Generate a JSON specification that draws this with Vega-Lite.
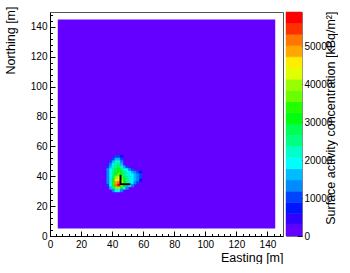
{
  "$schema": "https://vega.github.io/schema/vega-lite/v6.json",
  "padding": {"left": 3, "top": 5, "right": 0, "bottom": 0},
  "autosize": {"type": "pad"},
  "background": "white",
  "config": {
    "font": "Liberation Sans",
    "view": {"stroke": null},
    "axis": {"labelFont": "Liberation Sans", "titleFont": "Liberation Sans", "labelFontSize": 10, "titleFontSize": 12.5, "titleFontWeight": "normal", "labelColor": "#000", "titleColor": "#000", "domainColor": "#000", "tickColor": "#000", "grid": false, "zindex": 1, "labelFlush": false, "labelOverlap": false}
  },
  "spacing": 1,
  "resolve": {"scale": {"color": "independent", "stroke": "independent"}},
  "hconcat": [
    {
      "width": 233,
      "height": 224,
      "view": {"stroke": "#555", "strokeWidth": 1},
      "resolve": {"axis": {"x": "independent", "y": "independent"}, "scale": {"color": "independent", "stroke": "independent"}},
      "layer": [
        {
          "data": {"values": [{"x": 5, "x2": 145, "y": 5, "y2": 145, "z": 0}]},
          "mark": {"type": "rect"},
          "encoding": {
            "x": {"field": "x", "type": "quantitative", "scale": {"domain": [0, 150], "nice": false}, "axis": {"orient": "bottom", "values": [0, 20, 40, 60, 80, 100, 120, 140], "format": "d", "tickSize": -5, "labelPadding": 8, "title": "Easting [m]", "titleAnchor": "end", "titleAlign": "right", "titleBaseline": "middle", "titleX": 233, "titleY": 21}},
            "x2": {"field": "x2"},
            "y": {"field": "y", "type": "quantitative", "scale": {"domain": [0, 150], "nice": false}, "axis": {"orient": "left", "values": [0, 20, 40, 60, 80, 100, 120, 140], "format": "d", "tickSize": -5, "labelPadding": 8, "title": "Northing [m]", "titleAngle": 270, "titleAnchor": "end", "titleAlign": "right", "titleBaseline": "middle", "titleX": -40, "titleY": -6}},
            "y2": {"field": "y2"},
            "color": {"field": "z", "type": "quantitative", "scale": {"type": "threshold", "domain": [2950, 5900, 8850, 11800, 14750, 17700, 20650, 23600, 26550, 29500, 32450, 35400, 38350, 41300, 44250, 47200, 50150, 53100, 56050], "range": ["#6300ff", "#3300ff", "#0014ff", "#0044ff", "#008bff", "#00bbff", "#00fffc", "#00ffcc", "#00ff85", "#00ff55", "#00ff0e", "#22ff00", "#69ff00", "#99ff00", "#e0ff00", "#ffee00", "#ffa700", "#ff7700", "#ff3000", "#ff0000"]}, "legend": null}
          }
        },
        {
          "data": {"values": [
            {"x": 41.75, "x2": 43.5, "y": 52.25, "y2": 54, "z": 10300},
            {"x": 43.5, "x2": 45.25, "y": 52.25, "y2": 54, "z": 10300},
            {"x": 45.25, "x2": 47, "y": 52.25, "y2": 54, "z": 7400},

            {"x": 40, "x2": 41.75, "y": 50.5, "y2": 52.25, "z": 10300},
            {"x": 41.75, "x2": 43.5, "y": 50.5, "y2": 52.25, "z": 16200},
            {"x": 43.5, "x2": 45.25, "y": 50.5, "y2": 52.25, "z": 16200},
            {"x": 45.25, "x2": 47, "y": 50.5, "y2": 52.25, "z": 10300},

            {"x": 38.25, "x2": 40, "y": 48.75, "y2": 50.5, "z": 10300},
            {"x": 40, "x2": 41.75, "y": 48.75, "y2": 50.5, "z": 16200},
            {"x": 41.75, "x2": 43.5, "y": 48.75, "y2": 50.5, "z": 22100},
            {"x": 43.5, "x2": 45.25, "y": 48.75, "y2": 50.5, "z": 22100},
            {"x": 45.25, "x2": 47, "y": 48.75, "y2": 50.5, "z": 13300},

            {"x": 38.25, "x2": 40, "y": 47, "y2": 48.75, "z": 13300},
            {"x": 40, "x2": 41.75, "y": 47, "y2": 48.75, "z": 19100},
            {"x": 41.75, "x2": 43.5, "y": 47, "y2": 48.75, "z": 25000},
            {"x": 43.5, "x2": 45.25, "y": 47, "y2": 48.75, "z": 25000},
            {"x": 45.25, "x2": 47, "y": 47, "y2": 48.75, "z": 16200},

            {"x": 36.5, "x2": 38.25, "y": 45.25, "y2": 47, "z": 10300},
            {"x": 38.25, "x2": 40, "y": 45.25, "y2": 47, "z": 16200},
            {"x": 40, "x2": 41.75, "y": 45.25, "y2": 47, "z": 22100},
            {"x": 41.75, "x2": 43.5, "y": 45.25, "y2": 47, "z": 26000},
            {"x": 43.5, "x2": 45.25, "y": 45.25, "y2": 47, "z": 28000},
            {"x": 45.25, "x2": 47, "y": 45.25, "y2": 47, "z": 22100},
            {"x": 47, "x2": 48.75, "y": 45.25, "y2": 47, "z": 16200},
            {"x": 48.75, "x2": 50.5, "y": 45.25, "y2": 47, "z": 10300},

            {"x": 36.5, "x2": 38.25, "y": 43.5, "y2": 45.25, "z": 13300},
            {"x": 38.25, "x2": 40, "y": 43.5, "y2": 45.25, "z": 19100},
            {"x": 40, "x2": 41.75, "y": 43.5, "y2": 45.25, "z": 25000},
            {"x": 41.75, "x2": 43.5, "y": 43.5, "y2": 45.25, "z": 28000},
            {"x": 43.5, "x2": 45.25, "y": 43.5, "y2": 45.25, "z": 31000},
            {"x": 45.25, "x2": 47, "y": 43.5, "y2": 45.25, "z": 26000},
            {"x": 47, "x2": 48.75, "y": 43.5, "y2": 45.25, "z": 22100},
            {"x": 48.75, "x2": 50.5, "y": 43.5, "y2": 45.25, "z": 19100},
            {"x": 50.5, "x2": 52.25, "y": 43.5, "y2": 45.25, "z": 13300},
            {"x": 52.25, "x2": 54, "y": 43.5, "y2": 45.25, "z": 10300},

            {"x": 36.5, "x2": 38.25, "y": 41.75, "y2": 43.5, "z": 13300},
            {"x": 38.25, "x2": 40, "y": 41.75, "y2": 43.5, "z": 19100},
            {"x": 40, "x2": 41.75, "y": 41.75, "y2": 43.5, "z": 26000},
            {"x": 41.75, "x2": 43.5, "y": 41.75, "y2": 43.5, "z": 31000},
            {"x": 43.5, "x2": 45.25, "y": 41.75, "y2": 43.5, "z": 33900},
            {"x": 45.25, "x2": 47, "y": 41.75, "y2": 43.5, "z": 31000},
            {"x": 47, "x2": 48.75, "y": 41.75, "y2": 43.5, "z": 25000},
            {"x": 48.75, "x2": 50.5, "y": 41.75, "y2": 43.5, "z": 22100},
            {"x": 50.5, "x2": 52.25, "y": 41.75, "y2": 43.5, "z": 19100},
            {"x": 52.25, "x2": 54, "y": 41.75, "y2": 43.5, "z": 16200},
            {"x": 54, "x2": 55.75, "y": 41.75, "y2": 43.5, "z": 13300},
            {"x": 55.75, "x2": 57.5, "y": 41.75, "y2": 43.5, "z": 10300},
            {"x": 57.5, "x2": 59.25, "y": 41.75, "y2": 43.5, "z": 7400},

            {"x": 36.5, "x2": 38.25, "y": 40, "y2": 41.75, "z": 13300},
            {"x": 38.25, "x2": 40, "y": 40, "y2": 41.75, "z": 19100},
            {"x": 40, "x2": 41.75, "y": 40, "y2": 41.75, "z": 26000},
            {"x": 41.75, "x2": 43.5, "y": 40, "y2": 41.75, "z": 33900},
            {"x": 43.5, "x2": 45.25, "y": 40, "y2": 41.75, "z": 36800},
            {"x": 45.25, "x2": 47, "y": 40, "y2": 41.75, "z": 33900},
            {"x": 47, "x2": 48.75, "y": 40, "y2": 41.75, "z": 26000},
            {"x": 48.75, "x2": 50.5, "y": 40, "y2": 41.75, "z": 22100},
            {"x": 50.5, "x2": 52.25, "y": 40, "y2": 41.75, "z": 19100},
            {"x": 52.25, "x2": 54, "y": 40, "y2": 41.75, "z": 19100},
            {"x": 54, "x2": 55.75, "y": 40, "y2": 41.75, "z": 16200},
            {"x": 55.75, "x2": 57.5, "y": 40, "y2": 41.75, "z": 13300},
            {"x": 57.5, "x2": 59.25, "y": 40, "y2": 41.75, "z": 10300},

            {"x": 36.5, "x2": 38.25, "y": 38.25, "y2": 40, "z": 13300},
            {"x": 38.25, "x2": 40, "y": 38.25, "y2": 40, "z": 19100},
            {"x": 40, "x2": 41.75, "y": 38.25, "y2": 40, "z": 28000},
            {"x": 41.75, "x2": 43.5, "y": 38.25, "y2": 40, "z": 39800},
            {"x": 43.5, "x2": 45.25, "y": 38.25, "y2": 40, "z": 42700},
            {"x": 45.25, "x2": 47, "y": 38.25, "y2": 40, "z": 36800},
            {"x": 47, "x2": 48.75, "y": 38.25, "y2": 40, "z": 28000},
            {"x": 48.75, "x2": 50.5, "y": 38.25, "y2": 40, "z": 25000},
            {"x": 50.5, "x2": 52.25, "y": 38.25, "y2": 40, "z": 22100},
            {"x": 52.25, "x2": 54, "y": 38.25, "y2": 40, "z": 19100},
            {"x": 54, "x2": 55.75, "y": 38.25, "y2": 40, "z": 16200},
            {"x": 55.75, "x2": 57.5, "y": 38.25, "y2": 40, "z": 13300},
            {"x": 57.5, "x2": 59.25, "y": 38.25, "y2": 40, "z": 10300},

            {"x": 36.5, "x2": 38.25, "y": 36.5, "y2": 38.25, "z": 13300},
            {"x": 38.25, "x2": 40, "y": 36.5, "y2": 38.25, "z": 22100},
            {"x": 40, "x2": 41.75, "y": 36.5, "y2": 38.25, "z": 31000},
            {"x": 41.75, "x2": 43.5, "y": 36.5, "y2": 38.25, "z": 45700},
            {"x": 43.5, "x2": 45.25, "y": 36.5, "y2": 38.25, "z": 45700},
            {"x": 45.25, "x2": 47, "y": 36.5, "y2": 38.25, "z": 39800},
            {"x": 47, "x2": 48.75, "y": 36.5, "y2": 38.25, "z": 31000},
            {"x": 48.75, "x2": 50.5, "y": 36.5, "y2": 38.25, "z": 26000},
            {"x": 50.5, "x2": 52.25, "y": 36.5, "y2": 38.25, "z": 22100},
            {"x": 52.25, "x2": 54, "y": 36.5, "y2": 38.25, "z": 19100},
            {"x": 54, "x2": 55.75, "y": 36.5, "y2": 38.25, "z": 16200},
            {"x": 55.75, "x2": 57.5, "y": 36.5, "y2": 38.25, "z": 13300},
            {"x": 57.5, "x2": 59.25, "y": 36.5, "y2": 38.25, "z": 7400},

            {"x": 36.5, "x2": 38.25, "y": 34.75, "y2": 36.5, "z": 13300},
            {"x": 38.25, "x2": 40, "y": 34.75, "y2": 36.5, "z": 22100},
            {"x": 40, "x2": 41.75, "y": 34.75, "y2": 36.5, "z": 33900},
            {"x": 41.75, "x2": 43.5, "y": 34.75, "y2": 36.5, "z": 48600},
            {"x": 43.5, "x2": 45.25, "y": 34.75, "y2": 36.5, "z": 51600},
            {"x": 45.25, "x2": 47, "y": 34.75, "y2": 36.5, "z": 42700},
            {"x": 47, "x2": 48.75, "y": 34.75, "y2": 36.5, "z": 31000},
            {"x": 48.75, "x2": 50.5, "y": 34.75, "y2": 36.5, "z": 26000},
            {"x": 50.5, "x2": 52.25, "y": 34.75, "y2": 36.5, "z": 22100},
            {"x": 52.25, "x2": 54, "y": 34.75, "y2": 36.5, "z": 19100},
            {"x": 54, "x2": 55.75, "y": 34.75, "y2": 36.5, "z": 13300},
            {"x": 55.75, "x2": 57.5, "y": 34.75, "y2": 36.5, "z": 10300},

            {"x": 36.5, "x2": 38.25, "y": 33, "y2": 34.75, "z": 10300},
            {"x": 38.25, "x2": 40, "y": 33, "y2": 34.75, "z": 19100},
            {"x": 40, "x2": 41.75, "y": 33, "y2": 34.75, "z": 33900},
            {"x": 41.75, "x2": 43.5, "y": 33, "y2": 34.75, "z": 51600},
            {"x": 43.5, "x2": 45.25, "y": 33, "y2": 34.75, "z": 58900},
            {"x": 45.25, "x2": 47, "y": 33, "y2": 34.75, "z": 45700},
            {"x": 47, "x2": 48.75, "y": 33, "y2": 34.75, "z": 31000},
            {"x": 48.75, "x2": 50.5, "y": 33, "y2": 34.75, "z": 25000},
            {"x": 50.5, "x2": 52.25, "y": 33, "y2": 34.75, "z": 19100},
            {"x": 52.25, "x2": 54, "y": 33, "y2": 34.75, "z": 13300},

            {"x": 38.25, "x2": 40, "y": 31.25, "y2": 33, "z": 16200},
            {"x": 40, "x2": 41.75, "y": 31.25, "y2": 33, "z": 28000},
            {"x": 41.75, "x2": 43.5, "y": 31.25, "y2": 33, "z": 36800},
            {"x": 43.5, "x2": 45.25, "y": 31.25, "y2": 33, "z": 39800},
            {"x": 45.25, "x2": 47, "y": 31.25, "y2": 33, "z": 31000},
            {"x": 47, "x2": 48.75, "y": 31.25, "y2": 33, "z": 22100},
            {"x": 48.75, "x2": 50.5, "y": 31.25, "y2": 33, "z": 13300},

            {"x": 40, "x2": 41.75, "y": 29.5, "y2": 31.25, "z": 13300},
            {"x": 41.75, "x2": 43.5, "y": 29.5, "y2": 31.25, "z": 19100},
            {"x": 43.5, "x2": 45.25, "y": 29.5, "y2": 31.25, "z": 19100},
            {"x": 45.25, "x2": 47, "y": 29.5, "y2": 31.25, "z": 13300}
          ]},
          "mark": {"type": "rect", "strokeWidth": 0.5},
          "encoding": {
            "x": {"field": "x", "type": "quantitative", "axis": null},
            "x2": {"field": "x2"},
            "y": {"field": "y", "type": "quantitative", "axis": null},
            "y2": {"field": "y2"},
            "color": {"field": "z", "type": "quantitative", "scale": {"type": "threshold", "domain": [2950, 5900, 8850, 11800, 14750, 17700, 20650, 23600, 26550, 29500, 32450, 35400, 38350, 41300, 44250, 47200, 50150, 53100, 56050], "range": ["#6300ff", "#3300ff", "#0014ff", "#0044ff", "#008bff", "#00bbff", "#00fffc", "#00ffcc", "#00ff85", "#00ff55", "#00ff0e", "#22ff00", "#69ff00", "#99ff00", "#e0ff00", "#ffee00", "#ffa700", "#ff7700", "#ff3000", "#ff0000"]}, "legend": null},
            "stroke": {"field": "z", "type": "quantitative", "scale": {"type": "threshold", "domain": [2950, 5900, 8850, 11800, 14750, 17700, 20650, 23600, 26550, 29500, 32450, 35400, 38350, 41300, 44250, 47200, 50150, 53100, 56050], "range": ["#6300ff", "#3300ff", "#0014ff", "#0044ff", "#008bff", "#00bbff", "#00fffc", "#00ffcc", "#00ff85", "#00ff55", "#00ff0e", "#22ff00", "#69ff00", "#99ff00", "#e0ff00", "#ffee00", "#ffa700", "#ff7700", "#ff3000", "#ff0000"]}, "legend": null}
          }
        },
        {
          "data": {"values": [
            {"x": 45.4, "y": 41.0, "order": 1},
            {"x": 45.4, "y": 34.7, "order": 2},
            {"x": 51.8, "y": 34.7, "order": 3}
          ]},
          "mark": {"type": "line", "color": "#000", "strokeWidth": 2},
          "encoding": {
            "x": {"field": "x", "type": "quantitative", "axis": {"orient": "bottom", "values": [0, 4, 8, 12, 16, 20, 24, 28, 32, 36, 40, 44, 48, 52, 56, 60, 64, 68, 72, 76, 80, 84, 88, 92, 96, 100, 104, 108, 112, 116, 120, 124, 128, 132, 136, 140, 144, 148], "labels": false, "domain": false, "tickSize": -2.5, "title": null}},
            "y": {"field": "y", "type": "quantitative", "axis": {"orient": "left", "values": [0, 4, 8, 12, 16, 20, 24, 28, 32, 36, 40, 44, 48, 52, 56, 60, 64, 68, 72, 76, 80, 84, 88, 92, 96, 100, 104, 108, 112, 116, 120, 124, 128, 132, 136, 140, 144, 148], "labels": false, "domain": false, "tickSize": -2.5, "title": null}},
            "order": {"field": "order", "type": "quantitative"}
          }
        }
      ]
    },
    {
      "width": 16,
      "height": 224,
      "view": {"stroke": "#888", "strokeWidth": 1},
      "data": {"values": [
        {"lo": 0, "hi": 2950}, {"lo": 2950, "hi": 5900}, {"lo": 5900, "hi": 8850}, {"lo": 8850, "hi": 11800},
        {"lo": 11800, "hi": 14750}, {"lo": 14750, "hi": 17700}, {"lo": 17700, "hi": 20650}, {"lo": 20650, "hi": 23600},
        {"lo": 23600, "hi": 26550}, {"lo": 26550, "hi": 29500}, {"lo": 29500, "hi": 32450}, {"lo": 32450, "hi": 35400},
        {"lo": 35400, "hi": 38350}, {"lo": 38350, "hi": 41300}, {"lo": 41300, "hi": 44250}, {"lo": 44250, "hi": 47200},
        {"lo": 47200, "hi": 50150}, {"lo": 50150, "hi": 53100}, {"lo": 53100, "hi": 56050}, {"lo": 56050, "hi": 59000}
      ]},
      "mark": {"type": "rect", "strokeWidth": 0.5},
      "encoding": {
        "y": {"field": "lo", "type": "quantitative", "scale": {"domain": [0, 59000], "nice": false}, "axis": {"orient": "right", "values": [0, 10000, 20000, 30000, 40000, 50000], "format": "d", "tickSize": -5, "labelPadding": 7, "domain": false, "title": "Surface activity concentration [kBq/m²]", "titleAngle": 270, "titleAnchor": "end", "titleAlign": "right", "titleBaseline": "middle", "titleX": 28, "titleY": -1}},
        "y2": {"field": "hi"},
        "color": {"field": "lo", "type": "quantitative", "scale": {"type": "threshold", "domain": [2950, 5900, 8850, 11800, 14750, 17700, 20650, 23600, 26550, 29500, 32450, 35400, 38350, 41300, 44250, 47200, 50150, 53100, 56050], "range": ["#6300ff", "#3300ff", "#0014ff", "#0044ff", "#008bff", "#00bbff", "#00fffc", "#00ffcc", "#00ff85", "#00ff55", "#00ff0e", "#22ff00", "#69ff00", "#99ff00", "#e0ff00", "#ffee00", "#ffa700", "#ff7700", "#ff3000", "#ff0000"]}, "legend": null},
        "stroke": {"field": "lo", "type": "quantitative", "scale": {"type": "threshold", "domain": [2950, 5900, 8850, 11800, 14750, 17700, 20650, 23600, 26550, 29500, 32450, 35400, 38350, 41300, 44250, 47200, 50150, 53100, 56050], "range": ["#6300ff", "#3300ff", "#0014ff", "#0044ff", "#008bff", "#00bbff", "#00fffc", "#00ffcc", "#00ff85", "#00ff55", "#00ff0e", "#22ff00", "#69ff00", "#99ff00", "#e0ff00", "#ffee00", "#ffa700", "#ff7700", "#ff3000", "#ff0000"]}, "legend": null}
      }
    }
  ]
}
